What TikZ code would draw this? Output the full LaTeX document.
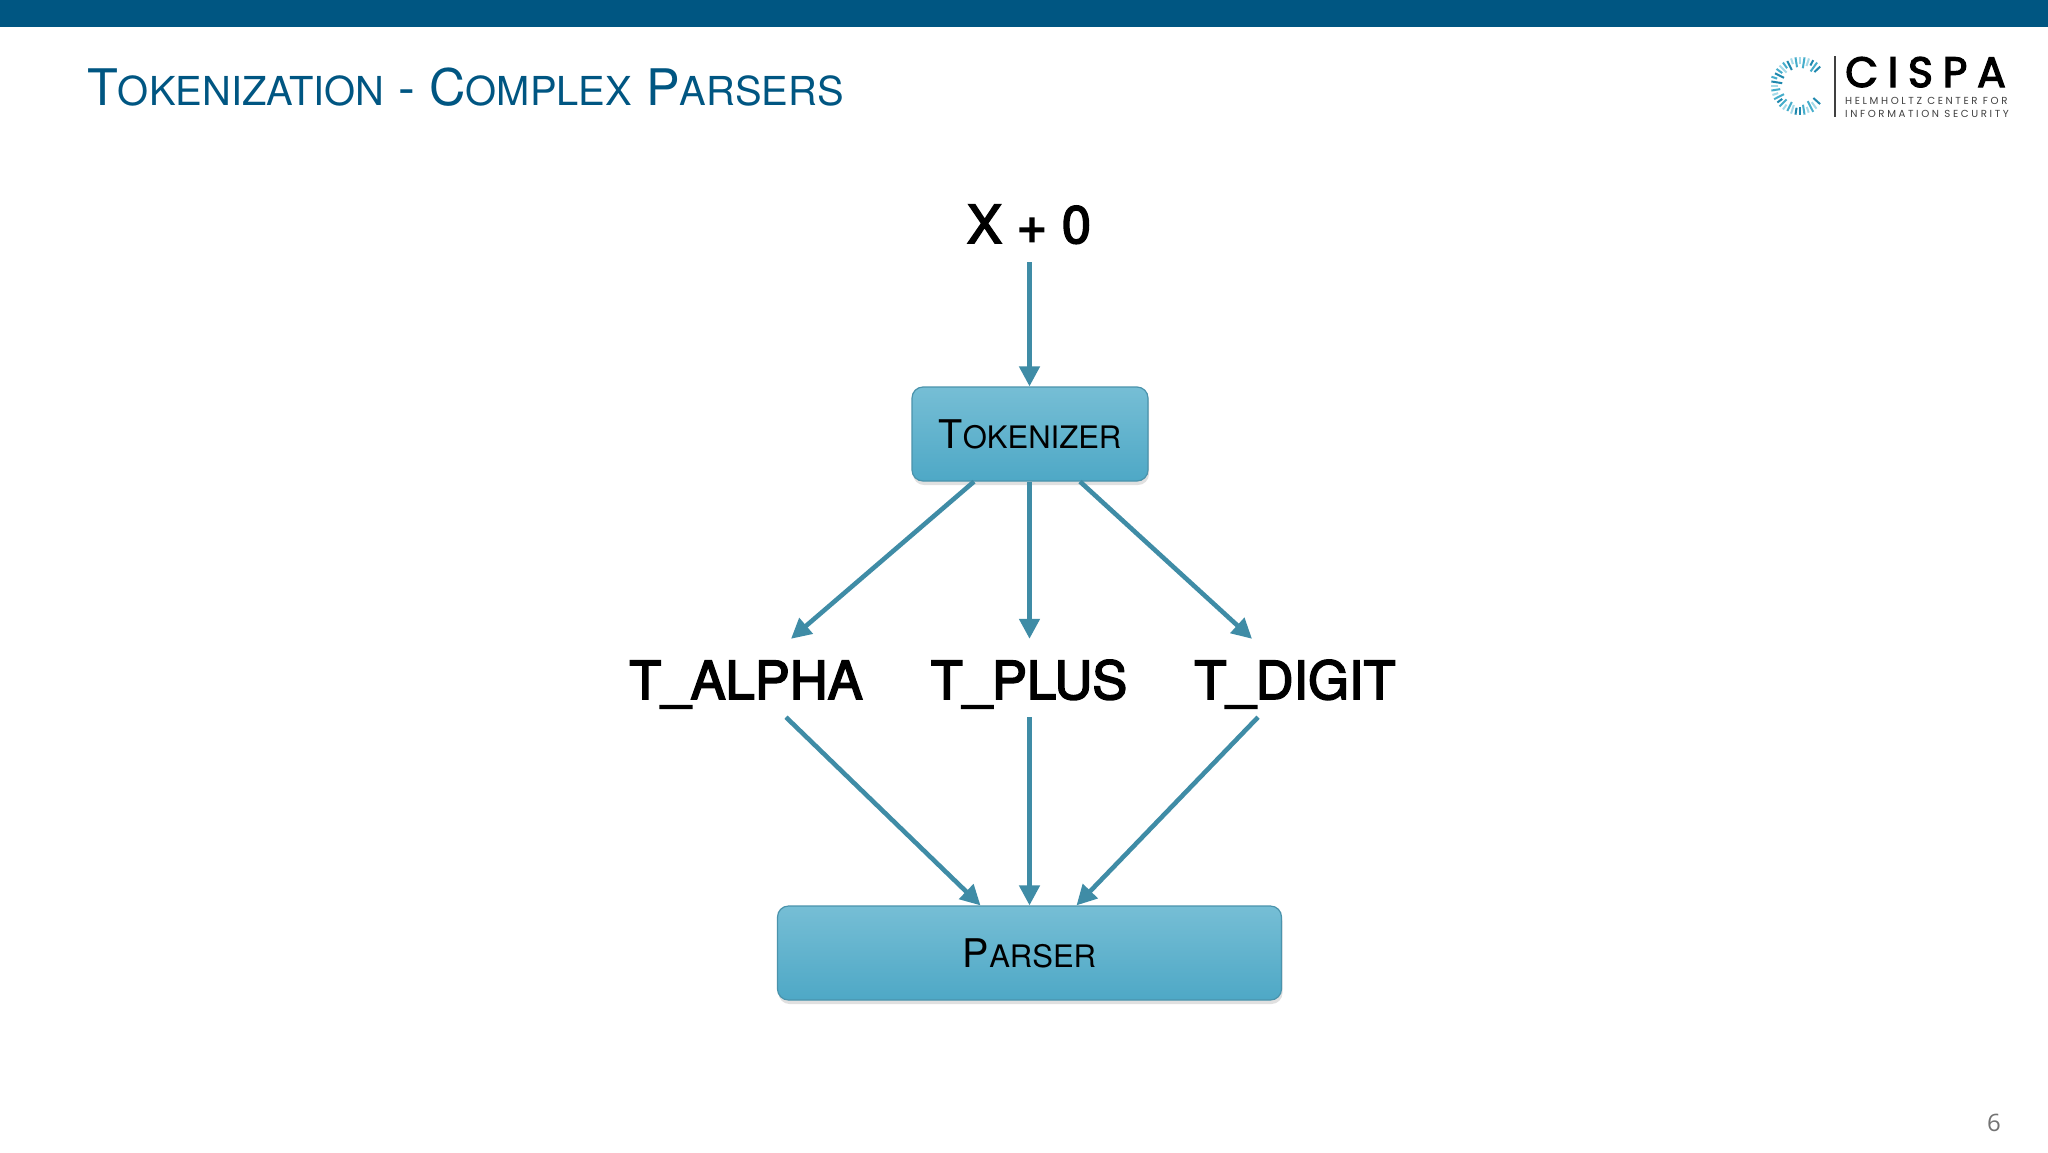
\documentclass[tikz,border=0pt]{standalone}
\usepackage{fontspec}
\usetikzlibrary{arrows.meta,shadows,calc}
\setmainfont{TeX Gyre Heros}
\newfontfamily\medfont[FakeBold=3]{TeX Gyre Heros}
\newfontfamily\logofont[LetterSpace=23,FakeBold=3]{Poppins}
\newfontfamily\logosmall[LetterSpace=25.5]{Poppins}
\newfontfamily\numfont{Open Sans}
\definecolor{barblue}{HTML}{005682}
\definecolor{arrowteal}{HTML}{3F8CA6}
\definecolor{boxtop}{HTML}{76BED5}
\definecolor{boxbot}{HTML}{4EA8C6}
\definecolor{boxline}{HTML}{4A93AC}
\definecolor{rayA}{HTML}{45ADCB}
\definecolor{rayB}{HTML}{A5DAE8}
\definecolor{rayC}{HTML}{1F88AE}
\newcommand{\bigsmall}[2]{{\fontsize{#1}{#1}\selectfont #2}}
\tikzset{
  x=1pt,y=-1pt,
  procbox/.style={draw=boxline,line width=1.2pt,rounded corners=11pt,top color=boxtop,bottom color=boxbot,
    drop shadow={shadow xshift=1pt,shadow yshift=-4pt,opacity=.12,fill=black},inner sep=0pt,align=center},
  tokenlabel/.style={inner sep=0pt,text=black,text height=42pt,text depth=9pt,anchor=base,font=\medfont\fontsize{52.5}{52.5}\selectfont},
  flow/.style={draw=arrowteal,line width=4.6pt,-{Triangle[length=20pt,width=20pt]},shorten >=0pt},
  ray/.style={line width=2pt}
}
\begin{document}
\begin{tikzpicture}
\useasboundingbox (0,0) rectangle (2048,1152);
\fill[white] (0,0) rectangle (2048,1152);
\fill[barblue] (0,0) rectangle (2048,27);
\node[inner sep=0pt,anchor=base west,text=barblue] (title) at (87,105)
 {\fontsize{50.4}{50.4}\selectfont T\bigsmall{39.9}{OKENIZATION} - C\bigsmall{39.9}{OMPLEX} P\bigsmall{39.9}{ARSERS}};
% logo
\foreach \a/\ri/\ro/\c in {
 42/18/27/rayC, 54/20/28/rayB, 63/17/29/rayA, 72/22/28/rayB, 81/19/29/rayA, 90/21/29/rayC,
 99/22/29/rayC, 108/20/29/rayB, 117/18/28/rayA, 126/23/29/rayB, 135/19/29/rayA, 144/22/28/rayC, 153/18/29/rayA,
 162/23/29/rayB, 171/20/29/rayA, 180/22/29/rayB, 189/18/29/rayC, 198/24/30/rayA, 207/18/28/rayC,
 216/22/29/rayA, 225/19/29/rayB, 234/22/29/rayA, 243/18/28/rayC, 252/23/29/rayB, 261/19/29/rayA, 270/22/29/rayB,
 279/18/29/rayA, 288/21/29/rayB, 297/23/29/rayC, 306/18/29/rayA, 316/20/28/rayC}
 {\draw[ray,draw=\c] ($(1800,86)+(\a:\ri)$) -- ($(1800,86)+(\a:\ro)$);}
\draw[line width=1.4pt,draw=black!75] (1835,56) -- (1835,117);
\node[inner sep=0pt,anchor=base west] (cispa) at (1845,87) {\logofont\fontsize{42.5}{42.5}\selectfont CISPA};
\node[inner sep=0pt,anchor=base west,text=black!75] (hc) at (1845,104) {\logosmall\fontsize{10.2}{10.2}\selectfont HELMHOLTZ CENTER FOR};
\node[inner sep=0pt,anchor=base west,text=black!75] (is) at (1845,117) {\logosmall\fontsize{10.2}{10.2}\selectfont INFORMATION SECURITY};
% diagram
\node[inner sep=0pt,anchor=base,text height=42pt,text depth=0pt,font=\medfont\fontsize{52.5}{52.5}\selectfont] (src) at (1029,243) {X + 0};
\node[procbox,minimum width=236pt,minimum height=94pt] (tok) at (1030,434)
 {\fontsize{39.5}{39.5}\selectfont T\bigsmall{31}{OKENIZER}};
\node[tokenlabel] (talpha) at (746,699) {T\_ALPHA};
\node[tokenlabel] (tplus) at (1029,699) {T\_PLUS};
\node[tokenlabel] (tdigit) at (1295,699) {T\_DIGIT};
\node[procbox,minimum width=504pt,minimum height=94pt] (parser) at (1029.5,953)
 {\fontsize{39.5}{39.5}\selectfont P\bigsmall{31}{ARSER}};
\draw[flow] ([xshift=0.5pt,yshift=-19pt]src.south) -- ([xshift=-0.5pt]tok.north);
\draw[flow] ([xshift=-56pt]tok.south) -- ([xshift=45pt,yshift=18pt]talpha.north);
\draw[flow] ([xshift=-0.5pt]tok.south) -- ([xshift=0.5pt,yshift=18pt]tplus.north);
\draw[flow] ([xshift=50pt]tok.south) -- ([xshift=-43pt,yshift=18pt]tdigit.north);
\draw[flow] ([xshift=40pt,yshift=-9pt]talpha.south) -- ([xshift=-49pt]parser.north);
\draw[flow] ([xshift=0.5pt,yshift=-9pt]tplus.south) -- (parser.north);
\draw[flow] ([xshift=-37pt,yshift=-9pt]tdigit.south) -- ([xshift=47pt]parser.north);
\node[inner sep=0pt,anchor=base,text=black!55] (pageno) at (1994,1131) {\numfont\fontsize{24}{24}\selectfont 6};
\end{tikzpicture}
\end{document}
